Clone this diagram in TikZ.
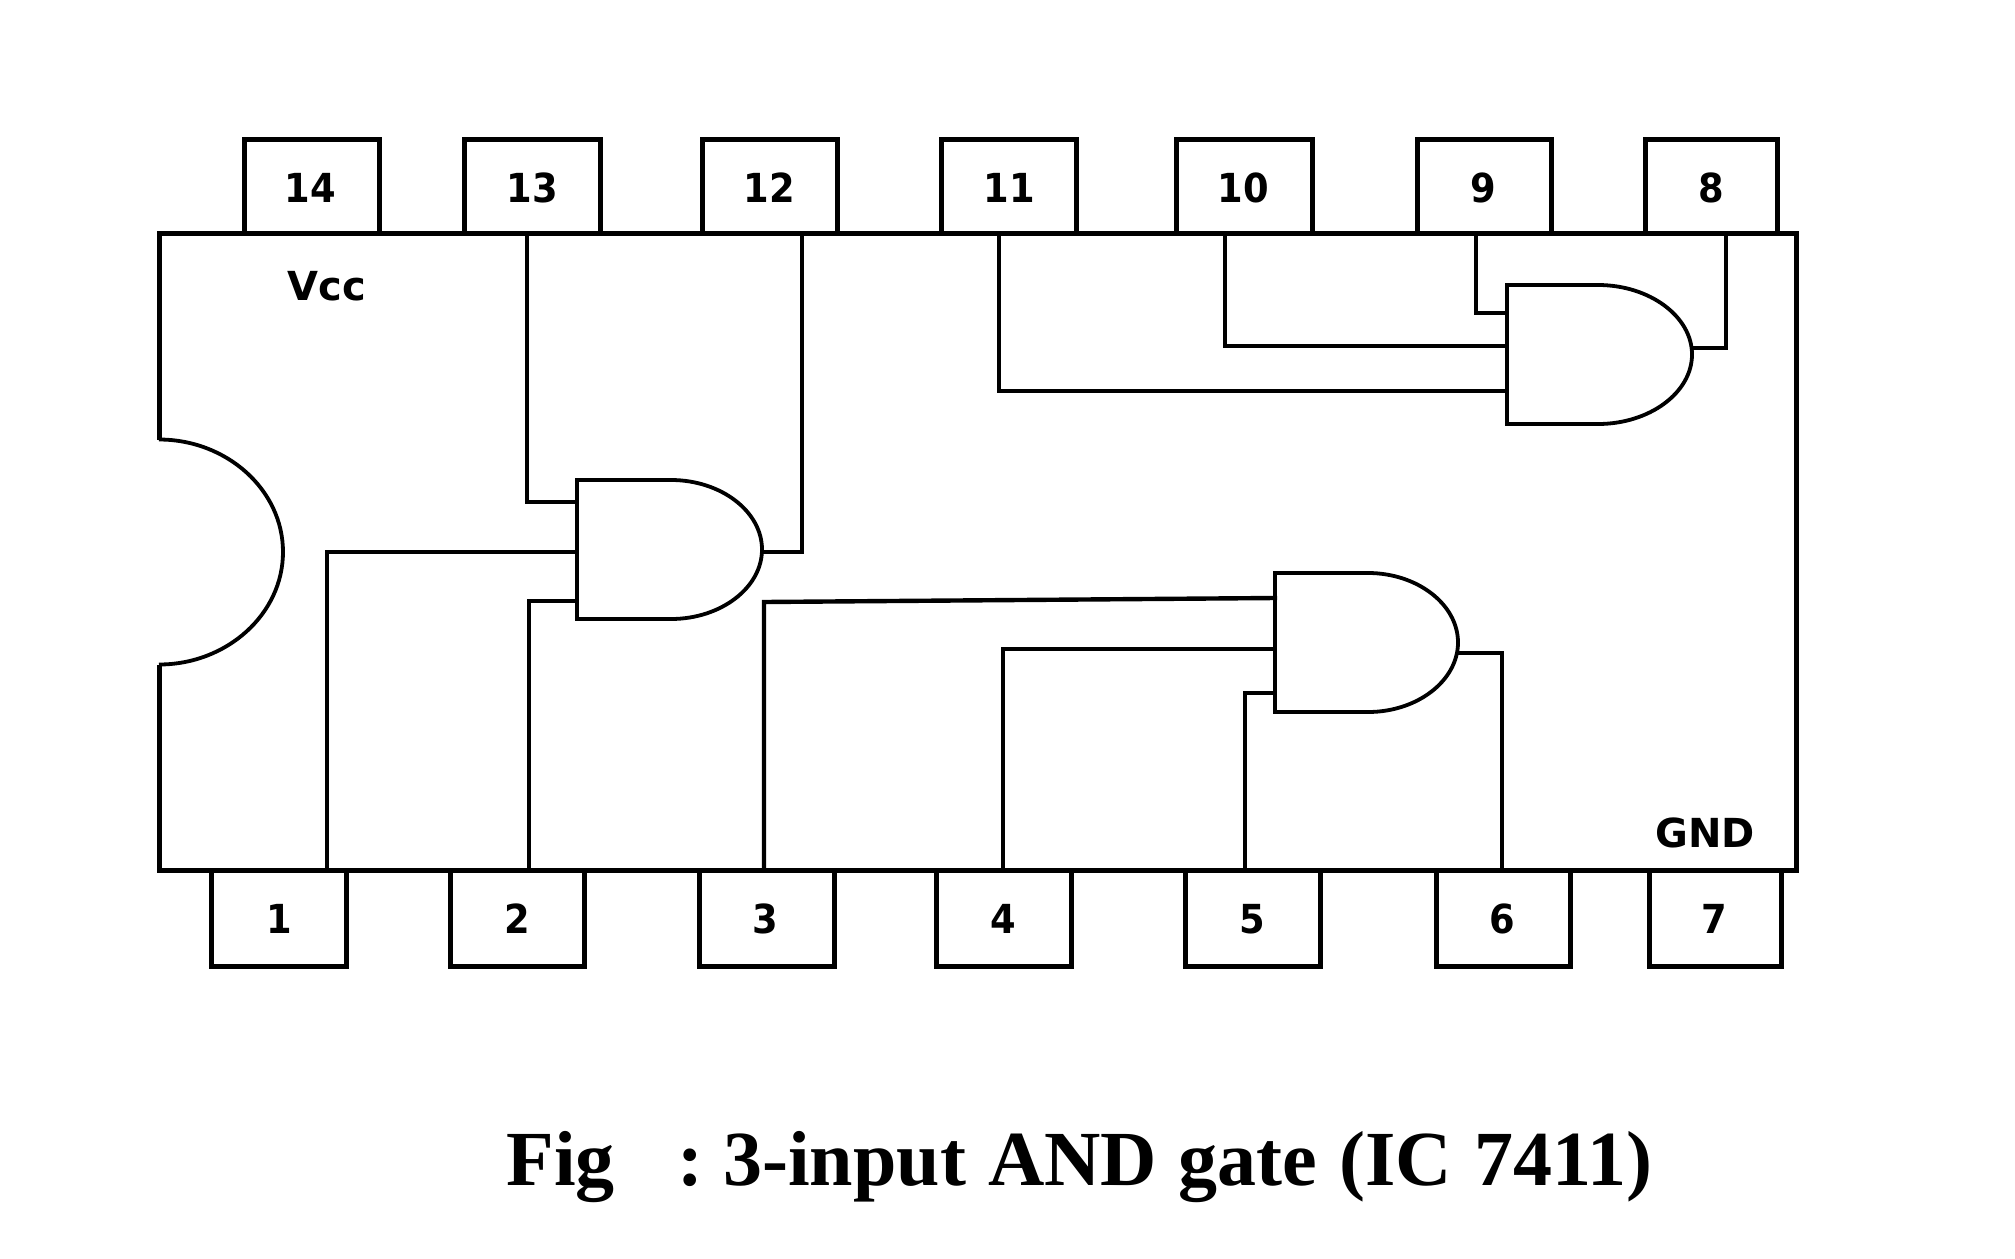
\documentclass[tikz,border=0pt]{standalone}
\usepackage{fontspec}
\setmainfont{DejaVu Sans}
\newfontfamily\capfont{Liberation Serif}
\begin{document}
\begin{tikzpicture}[x=0.5pt,y=-0.5pt,
  outline/.style={draw=black,line width=2.5pt,line join=miter},
  gateline/.style={draw=black,line width=2.3pt,line join=miter},
  wire/.style={draw=black,line width=2.2pt,line join=miter,line cap=rect},
  thincurve/.style={draw=black,line width=1.9pt},
  pinbox/.style={rectangle,draw=black,line width=2.5pt,inner sep=0pt,outer sep=0pt},
  pinlabel/.style={font=\fontsize{20}{24}\selectfont\bfseries,inner sep=0pt,xscale=.92,text=black},
  chiplabel/.style={font=\fontsize{20}{24}\selectfont\bfseries,inner sep=0pt,text=black},
  gatearea/.style={rectangle,inner sep=0pt,outer sep=0pt}]
\useasboundingbox (0,0) rectangle (2015,1259);
\newcommand{\icpin}[6]{% name, x1, x2, y1, y2, label x
  \pgfmathsetmacro{\pw}{(#3-#2)*0.5}\pgfmathsetmacro{\ph}{(#5-#4)*0.5}
  \node[pinbox,minimum width=\pw pt,minimum height=\ph pt] (pin#1) at ({(#2+#3)/2},{(#4+#5)/2}) {};
  \node[pinlabel] (lab#1) at (#6,{#4<500 ? 187.6 : 919}) {#1};
}
\newcommand{\andgate}[5]{% name, left, top, flat, right
  \pgfmathsetmacro{\gb}{#3+139}\pgfmathsetmacro{\gm}{#3+69.5}
  \pgfmathsetmacro{\cx}{#4+0.55*(#5-#4)}\pgfmathsetmacro{\cya}{\gm-38}\pgfmathsetmacro{\cyb}{\gm+38}
  \pgfmathsetmacro{\gw}{(#5-#2)*0.5}
  \node[gatearea,minimum width=\gw pt,minimum height=69.5pt] (#1) at ({(#2+#5)/2},\gm) {};
  \draw[gateline] (#4,#3) -- (#2,#3) -- (#2,\gb) -- (#4,\gb);
  \draw[thincurve] (#4,#3) .. controls (\cx,#3) and (#5,\cya) .. (#5,\gm) .. controls (#5,\cyb) and (\cx,\gb) .. (#4,\gb);
}
% pins
\icpin{14}{244}{379}{139}{233}{310}
\icpin{13}{464}{600}{139}{233}{532}
\icpin{12}{702}{837}{139}{233}{769}
\icpin{11}{941}{1076}{139}{233}{1009}
\icpin{10}{1176}{1312}{139}{233}{1243}
\icpin{9}{1417}{1551}{139}{233}{1483}
\icpin{8}{1645}{1777}{139}{233}{1711}
\icpin{1}{211}{346}{870}{966}{279}
\icpin{2}{450}{584}{870}{966}{517}
\icpin{3}{699}{834}{870}{966}{765}
\icpin{4}{936}{1071}{870}{966}{1003}
\icpin{5}{1185}{1320}{870}{966}{1252}
\icpin{6}{1436}{1570}{870}{966}{1502}
\icpin{7}{1649}{1781}{870}{966}{1714}
% chip body with notch
\draw[outline,fill=white] (159,439.5) -- (159,233) -- (1796,233) -- (1796,870.4) -- (159,870.4) -- (159,664.5);
\draw[thincurve] (159,439.5) .. controls (227,439.5) and (283,490) .. (283,552) .. controls (283,614) and (227,664.5) .. (159,664.5);
\node[chiplabel] (vcc) at (327,286) {Vcc};
\node[chiplabel] (gnd) at (1705,833) {GND};
% gates
\andgate{gA}{577}{480}{671}{762}
\andgate{gB}{1507}{285}{1598}{1692}
\andgate{gC}{1275}{573}{1368}{1458}
% body-edge ends of the wires
\coordinate (w13) at (527,233);
\coordinate (w12) at (802,233);
\coordinate (w11) at (999,233);
\coordinate (w10) at (1225,233);
\coordinate (w9) at (1476,233);
\coordinate (w8) at (1726,233);
\coordinate (w1) at (327,870);
\coordinate (w2) at (529,870);
\coordinate (w3) at (764,870);
\coordinate (w4) at (1003,870);
\coordinate (w5) at (1245,870);
\coordinate (w6) at (1502,870);
% gate A
\draw[wire] (w13) |- (gA.west |- 0,502);
\draw[wire] (w1) |- (gA.west |- 0,552);
\draw[wire] (w2) |- (gA.west |- 0,601);
\draw[wire] (gA.east |- 0,552) -| (w12);
% gate B
\draw[wire] (w9) |- (gB.west |- 0,313);
\draw[wire] (w10) |- (gB.west |- 0,346);
\draw[wire] (w11) |- (gB.west |- 0,391);
\draw[wire] (gB.east |- 0,348) -| (w8);
% gate C
\draw[wire] (w3) -- (764,602) -- (gC.west |- 0,598);
\draw[wire] (w4) |- (gC.west |- 0,649);
\draw[wire] (w5) |- (gC.west |- 0,693);
\draw[wire] (gC.east |- 0,653) -| (w6);
% caption
\node[anchor=base west,inner sep=0pt,font=\capfont\bfseries\fontsize{39}{44}\selectfont] (cap) at (506,1185) {Fig\hspace{31.5pt}:\hspace{9.8pt}3-input\hspace{11pt}AND\hspace{11pt}gate\hspace{11pt}(IC\hspace{11pt}7411)};
\end{tikzpicture}
\end{document}
